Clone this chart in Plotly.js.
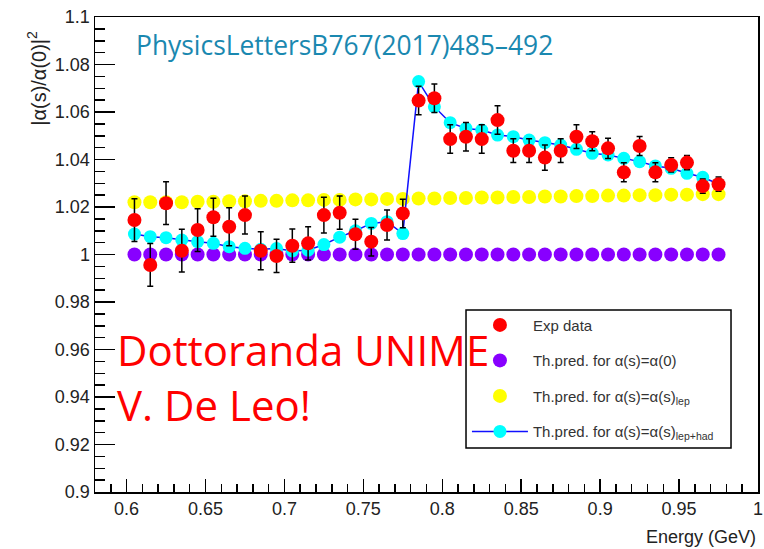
<!DOCTYPE html>
<html>
<head>
<meta charset="utf-8">
<script src="https://cdn.plot.ly/plotly-3.0.1.min.js"></script>
<style>html,body{margin:0;padding:0;background:#fff;}#chart{width:764px;height:549px;}</style>
</head>
<body>
<div id="chart"></div>
<script>
// Energy (GeV)
const energy = [0.605,0.615,0.625,0.635,0.645,0.655,0.665,0.675,0.685,0.695,
                0.705,0.715,0.725,0.735,0.745,0.755,0.765,0.775,0.785,0.795,
                0.805,0.815,0.825,0.835,0.845,0.855,0.865,0.875,0.885,0.895,
                0.905,0.915,0.925,0.935,0.945,0.955,0.965,0.975];
// Experimental data and errors
const expData = [1.0145,0.9956,1.0216,1.0016,1.0103,1.0157,1.0117,1.0166,1.0016,0.9994,
                 1.0037,1.0047,1.0166,1.0176,1.0085,1.0054,1.0124,1.0173,1.0648,1.0658,
                 1.0486,1.0496,1.0486,1.0566,1.0437,1.0437,1.0408,1.0437,1.0496,1.0477,
                 1.0447,1.0346,1.0457,1.0346,1.0377,1.0387,1.0288,1.0296];
const expErr = [0.009,0.009,0.009,0.009,0.009,0.008,0.008,0.008,0.008,0.007,
                0.007,0.007,0.0075,0.007,0.0063,0.006,0.0063,0.006,0.006,0.006,
                0.006,0.006,0.006,0.006,0.005,0.005,0.0053,0.005,0.005,0.004,
                0.0043,0.004,0.004,0.004,0.003,0.003,0.003,0.003];
// Theoretical predictions
const predAlpha0 = [1,1,1,1,1,1,1,1,1,1,1,1,1,1,1,1,1,1,1,1,
                    1,1,1,1,1,1,1,1,1,1,1,1,1,1,1,1,1,1];
const predLep = [1.0220,1.0220,1.0220,1.0220,1.0222,1.0222,1.0224,1.0224,1.0226,1.0226,
                 1.0228,1.0228,1.0230,1.0230,1.0232,1.0232,1.0234,1.0234,1.0236,1.0236,
                 1.0238,1.0238,1.0240,1.0240,1.0242,1.0242,1.0244,1.0244,1.0246,1.0246,
                 1.0248,1.0248,1.0250,1.0250,1.0252,1.0252,1.0254,1.0254];
const predLepHad = [1.0086,1.0075,1.0071,1.0061,1.0054,1.0047,1.0033,1.0026,1.0022,1.0025,
                    1.0015,1.0018,1.0042,1.0073,1.0100,1.0131,1.0138,1.0088,1.0728,1.0622,
                    1.0555,1.0531,1.0524,1.0503,1.0496,1.0482,1.0471,1.0461,1.0443,1.0426,
                    1.0419,1.0405,1.0391,1.0373,1.0363,1.0342,1.0325,1.0297];

const labels = {
  exp: 'Exp data',
  a0: 'Th.pred. for α(s)=α(0)',
  lep: 'Th.pred. for α(s)=α(s)<sub>lep</sub>',
  had: 'Th.pred. for α(s)=α(s)<sub>lep+had</sub>'
};

const traces = [
  {x: energy, y: predAlpha0, type: 'scatter', mode: 'markers', name: labels.a0,
   legendgroup: 'b', legendrank: 2,
   marker: {color: '#8800ff', size: 14}},
  {x: energy, y: predLep, type: 'scatter', mode: 'markers', name: labels.lep,
   legendgroup: 'c', legendrank: 3,
   marker: {color: '#ffff00', size: 14}},
  {x: energy, y: predLepHad, type: 'scatter', mode: 'lines+markers', name: labels.had,
   legendgroup: 'd', legendrank: 4,
   line: {color: '#1010ff', width: 1.5},
   marker: {color: '#00ffff', size: 13}},
  {x: energy, y: expData, type: 'scatter', mode: 'markers', name: labels.exp,
   legendgroup: 'a', legendrank: 1,
   marker: {color: '#ff0000', size: 14},
   error_y: {type: 'data', array: expErr, visible: true, color: '#000', thickness: 1.5, width: 3}}
];

const tickFont = {family: 'Liberation Sans, Arial, sans-serif', size: 18, color: '#222'};

const layout = {
  width: 764, height: 549,
  margin: {l: 95, r: 6, t: 17, b: 57, pad: 0},
  paper_bgcolor: '#fff', plot_bgcolor: '#fff',
  showlegend: true,
  xaxis: {
    range: [0.58, 1.0], tick0: 0.6, dtick: 0.05,
    ticks: 'inside', ticklen: 13, tickwidth: 1.5, tickcolor: '#000',
    showline: true, linecolor: '#000', linewidth: 1.5, mirror: true,
    showgrid: false, zeroline: false, tickfont: tickFont,
    minor: {dtick: 0.01, ticks: 'inside', ticklen: 8, tickwidth: 1.5, tickcolor: '#000', showgrid: false}
  },
  yaxis: {
    range: [0.9, 1.1], tick0: 0.9, dtick: 0.02,
    ticks: 'inside', ticklen: 20, tickwidth: 1.5, tickcolor: '#000',
    showline: true, linecolor: '#000', linewidth: 1.5, mirror: true,
    showgrid: false, zeroline: false, tickfont: tickFont,
    minor: {dtick: 0.005, ticks: 'inside', ticklen: 10, tickwidth: 1.5, tickcolor: '#000', showgrid: false}
  },
  legend: {
    x: 0.561, y: 0.386, xanchor: 'left', yanchor: 'top',
    bgcolor: 'rgba(0,0,0,0)', borderwidth: 0,
    font: {family: 'Liberation Sans, Arial, sans-serif', size: 15, color: '#333'},
    itemwidth: 56, tracegroupgap: 13, traceorder: 'grouped'
  },
  shapes: [
    {type: 'rect', xref: 'paper', yref: 'paper', x0: 0.5596, x1: 0.9593, y0: 0.0926, y1: 0.3832,
     line: {color: '#000', width: 1.5}, fillcolor: '#fff', layer: 'below'}
  ],
  annotations: [
    {xref: 'paper', yref: 'paper', x: -0.0875, y: 0.872, xanchor: 'center', yanchor: 'middle',
     text: '|α(s)/α(0)|<sup>2</sup>', textangle: -90, showarrow: false,
     font: {family: 'Liberation Sans, Arial, sans-serif', size: 20, color: '#222'}},
    {xref: 'paper', yref: 'paper', x: 1.0, y: -0.095, xanchor: 'right', yanchor: 'middle',
     text: 'Energy (GeV)', showarrow: false,
     font: {family: 'Liberation Sans, Arial, sans-serif', size: 18, color: '#222'}},
    {xref: 'paper', yref: 'paper', x: 0.059, y: 0.941, xanchor: 'left', yanchor: 'middle',
     text: 'PhysicsLettersB767(2017)485–492', showarrow: false,
     font: {family: 'Open Sans, sans-serif', size: 26.4, color: '#1a88b0'}},
    {xref: 'paper', yref: 'paper', x: 0.030, y: 0.242, xanchor: 'left', yanchor: 'middle',
     text: 'Dottoranda UNIME<br>V. De Leo!', align: 'left', showarrow: false,
     font: {family: 'Open Sans, sans-serif', size: 42, color: '#ff0000'}}
  ]
};

Plotly.newPlot('chart', traces, layout, {displayModeBar: false, staticPlot: true});
</script>
</body>
</html>
